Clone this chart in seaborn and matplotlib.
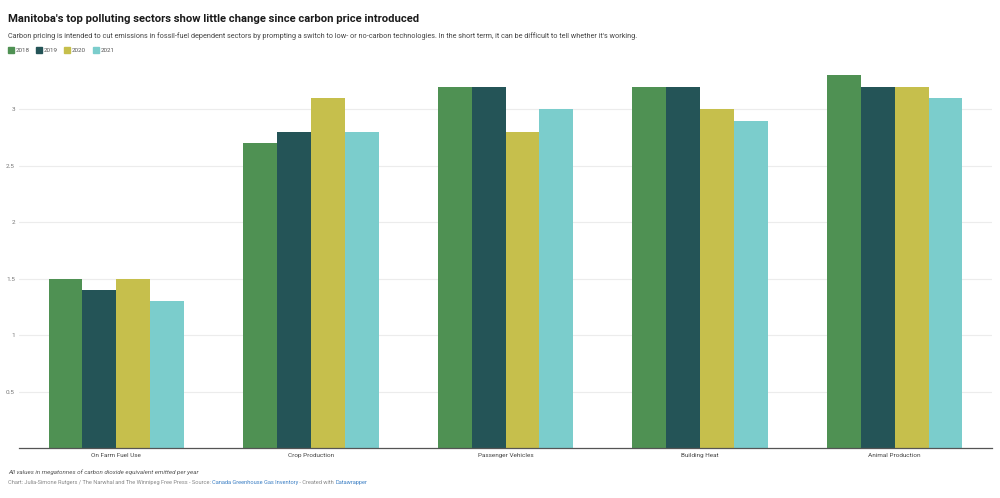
import seaborn as sns
import numpy as np
import matplotlib.pyplot as plt
import matplotlib.patches as mpatches
import pandas as pd

# data (megatonnes CO2e)
sectors = ["On Farm Fuel Use", "Crop Production", "Passenger Vehicles",
           "Building Heat", "Animal Production"]
years = ["2018", "2019", "2020", "2021"]
v2018 = [1.5, 2.7, 3.2, 3.2, 3.3]
v2019 = [1.4, 2.8, 3.2, 3.2, 3.2]
v2020 = [1.5, 3.1, 2.8, 3.0, 3.2]
v2021 = [1.3, 2.8, 3.0, 2.9, 3.1]
yticks = [0.5, 1, 1.5, 2, 2.5, 3]
ytick_labels = ["0.5", "1", "1.5", "2", "2.5", "3"]

colors = ["#4f9153", "#245457", "#c6bf4c", "#7bcdcc"]

rows = []
for yr, vals in zip(years, [v2018, v2019, v2020, v2021]):
    for s, v in zip(sectors, vals):
        rows.append({"sector": s, "year": yr, "value": v})
df = pd.DataFrame(rows)

sns.set_theme(style="white")
plt.rcParams['font.family'] = ['Roboto', 'DejaVu Sans']

fig = plt.figure(figsize=(10, 4.98), dpi=100)
ax = fig.add_axes([0.019, 1 - 448 / 498, 0.973, (448 - 72) / 498])

sns.barplot(data=df, x="sector", y="value", hue="year", palette=colors,
            order=sectors, hue_order=years, width=0.695, saturation=1,
            legend=False, ax=ax)
for p in ax.patches:
    p.set_edgecolor("none")

ax.set_xlim(-0.5, len(sectors) - 0.5)
ax.set_ylim(0, 3.33)
ax.set_yticks(yticks)
ax.set_yticklabels(ytick_labels)
ax.set_xlabel("")
ax.set_ylabel("")
ax.grid(axis="y", color="#ececec", linewidth=0.8)
ax.set_axisbelow(True)
for side in ["top", "right", "left"]:
    ax.spines[side].set_visible(False)
ax.spines["bottom"].set_color("#555555")
ax.spines["bottom"].set_linewidth(0.9)
ax.tick_params(axis="y", length=0, labelsize=4.6, labelcolor="#777777", pad=3)
ax.tick_params(axis="x", length=0, labelsize=4.6, labelcolor="#444444", pad=3.5)

# header
fig.text(0.008, 1 - 19 / 498, "Manitoba's top polluting sectors show little change since carbon price introduced",
         fontsize=8.1, fontweight="bold", color="#1a1a1a", va="center")
fig.text(0.008, 1 - 36 / 498,
         "Carbon pricing is intended to cut emissions in fossil-fuel dependent sectors by prompting a switch to low- or no-carbon technologies. In the short term, it can be difficult to tell whether it's working.",
         fontsize=5.2, color="#444444", va="center")

# legend
lx = [8, 36, 64, 93]
for x0, yr, c in zip(lx, years, colors):
    fig.patches.append(mpatches.Rectangle((x0 / 1000, 1 - 53 / 498), 6 / 1000, 6 / 498,
                                          transform=fig.transFigure, color=c))
    fig.text((x0 + 8) / 1000, 1 - 50 / 498, yr, fontsize=4.5, color="#555555", va="center")

# footer
fig.text(0.008, 1 - 472 / 498, "All values in megatonnes of carbon dioxide equivalent emitted per year",
         fontsize=4.5, style="italic", color="#555555", va="center")

fig.canvas.draw()
renderer = fig.canvas.get_renderer()
parts = [("Chart: Julia-Simone Rutgers / The Narwhal and The Winnipeg Free Press - Source: ", "#888888"),
         ("Canada Greenhouse Gas Inventory", "#3b7fc4"),
         (" - Created with ", "#888888"),
         ("Datawrapper", "#3b7fc4")]
x = 0.008
for txt, c in parts:
    t = fig.text(x, 1 - 482 / 498, txt, fontsize=4.05, color=c, va="center")
    bb = t.get_window_extent(renderer=renderer)
    x = x + bb.width / fig.bbox.width

fig.savefig("out.png", dpi=100)
